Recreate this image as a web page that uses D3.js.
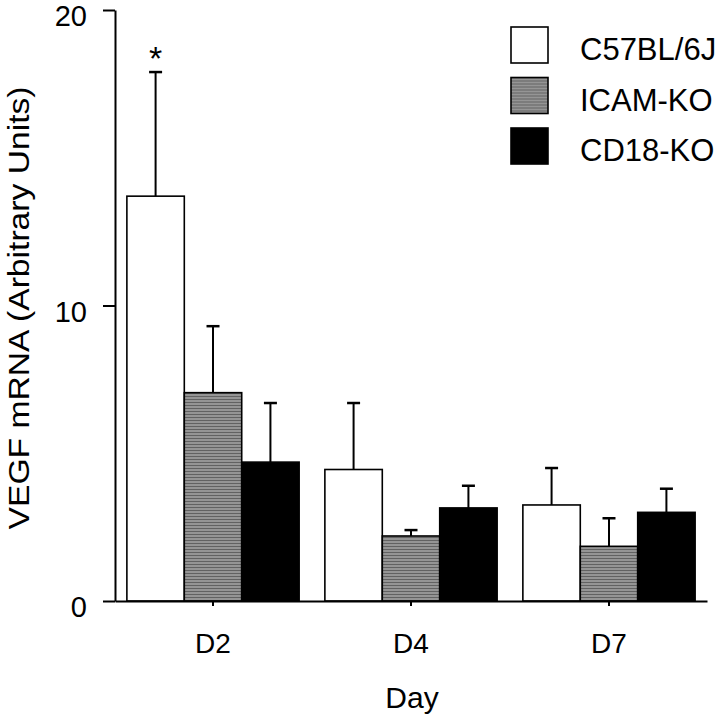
<!DOCTYPE html>
<html>
<head>
<meta charset="utf-8">
<script src="https://cdn.jsdelivr.net/npm/d3@7"></script>
<style>
  body { margin: 0; background: #fff; }
  text { font-family: Arial, "Liberation Sans", Helvetica, sans-serif; fill: #000; }
</style>
</head>
<body>
<div id="chart"></div>
<script>
var w = 717, h = 720;

var days = ["D2", "D4", "D7"];
var strains = ["C57BL/6J", "ICAM-KO", "CD18-KO"];
// mean values per strain, in order of days
var c57 = [13.7, 4.45, 3.25];
var icam = [7.05, 2.2, 1.85];
var cd18 = [4.7, 3.15, 3.0];
// top of the error bar (mean + SEM)
var c57Err = [17.9, 6.7, 4.5];
var icamErr = [9.3, 2.4, 2.8];
var cd18Err = [6.7, 3.9, 3.8];
var yTicks = [0, 10, 20];
var starred = [{ day: "D2", strain: "C57BL/6J" }];

var means = [c57, icam, cd18];
var errs = [c57Err, icamErr, cd18Err];
var rows = [];
days.forEach(function(d, i) {
  strains.forEach(function(s, j) {
    rows.push({ day: d, strain: s, value: means[j][i], err: errs[j][i] });
  });
});

var svg = d3.select("#chart").append("svg")
  .attr("width", w).attr("height", h);

// textured gray like the scanned figure
var pat = svg.append("defs").append("pattern")
  .attr("id", "grayfill").attr("patternUnits", "userSpaceOnUse")
  .attr("width", 4).attr("height", 3);
pat.append("rect").attr("width", 4).attr("height", 3).attr("fill", "#959595");
pat.append("rect").attr("width", 4).attr("height", 1).attr("fill", "#626262");

var fills = { "C57BL/6J": "#fff", "ICAM-KO": "url(#grayfill)", "CD18-KO": "#000" };

var x = d3.scaleBand().domain(days).range([115, 707])
  .paddingInner(0.13).paddingOuter(0.06);
var xs = d3.scaleBand().domain(strains).range([0, x.bandwidth()]);
var y = d3.scaleLinear().domain([0, 20]).range([601, 10]);

// bars
var bars = svg.append("g").selectAll("g.bar")
  .data(rows).enter()
  .append("g").attr("class", "bar")
  .attr("transform", function(d) { return "translate(" + (x(d.day) + xs(d.strain)) + ",0)"; });

bars.each(function(d) {
  var g = d3.select(this);
  var cx = xs.bandwidth() / 2;
  g.append("line")
    .attr("x1", cx).attr("x2", cx)
    .attr("y1", y(d.value)).attr("y2", y(d.err))
    .attr("stroke", "#000").attr("stroke-width", 2);
  g.append("line")
    .attr("x1", cx - 6.5).attr("x2", cx + 6.5)
    .attr("y1", y(d.err)).attr("y2", y(d.err))
    .attr("stroke", "#000").attr("stroke-width", 2.5);
  g.append("rect")
    .attr("x", 0).attr("width", xs.bandwidth())
    .attr("y", y(d.value)).attr("height", y(0) - y(d.value))
    .attr("fill", fills[d.strain])
    .attr("stroke", "#000").attr("stroke-width", 1.6);
});

// significance mark
svg.append("g").selectAll("text")
  .data(starred).enter()
  .append("text")
  .attr("x", function(s) { return x(s.day) + xs(s.strain) + xs.bandwidth() / 2; })
  .attr("y", function(s) {
    var r = rows.find(function(d) { return d.day === s.day && d.strain === s.strain; });
    return y(r.err) - 2;
  })
  .attr("text-anchor", "middle").style("font-size", "34px")
  .text("*");

// axes
var yAxis = svg.append("g").attr("transform", "translate(115,0)")
  .call(d3.axisLeft(y).tickValues(yTicks).tickFormat(d3.format("d"))
    .tickSize(12).tickSizeOuter(0).tickPadding(16));
yAxis.selectAll("text").style("font-size", "29px").attr("dy", "0.55em");

var xAxis = svg.append("g").attr("transform", "translate(0,601)")
  .call(d3.axisBottom(x).tickSize(5).tickSizeOuter(0).tickPadding(27));
xAxis.selectAll("text").style("font-size", "28px");

svg.selectAll(".domain, .tick line").attr("stroke", "#000").attr("stroke-width", 2);

// axis titles
svg.append("text")
  .attr("transform", "translate(29,308) rotate(-90)")
  .attr("text-anchor", "middle")
  .attr("textLength", 443).attr("lengthAdjust", "spacingAndGlyphs")
  .style("font-size", "29px")
  .text("VEGF mRNA (Arbitrary Units)");

svg.append("text")
  .attr("x", 412).attr("y", 708)
  .attr("text-anchor", "middle").style("font-size", "30px")
  .text("Day");

// legend
var legend = svg.append("g").selectAll("g.key")
  .data(strains).enter()
  .append("g").attr("class", "key")
  .attr("transform", function(d, i) { return "translate(511," + (27 + i * 50.5) + ")"; });

legend.append("rect")
  .attr("width", 37).attr("height", 36)
  .attr("fill", function(d) { return fills[d]; })
  .attr("stroke", "#000").attr("stroke-width", 1.6);

legend.append("text")
  .attr("x", 69).attr("y", 33)
  .style("font-size", "31px")
  .text(function(d) { return d; });
</script>
</body>
</html>
